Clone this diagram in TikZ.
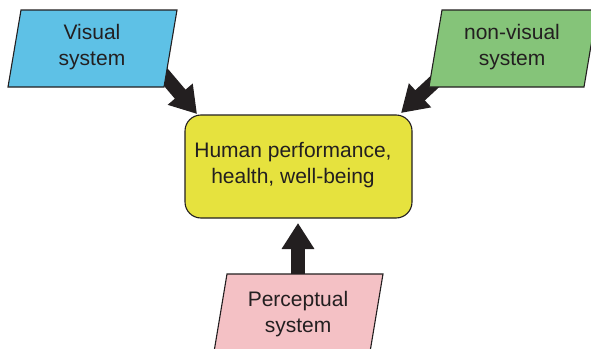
\documentclass[tikz,border=0pt]{standalone}
\usepackage{fontspec}
\setmainfont{Liberation Sans}
\usetikzlibrary{arrows.meta}
\definecolor{ink}{HTML}{231F20}
\definecolor{visblue}{HTML}{5EC1E6}
\definecolor{nvgreen}{HTML}{85C479}
\definecolor{outyellow}{HTML}{E6E23E}
\definecolor{perpink}{HTML}{F4C1C5}
\tikzset{
  boxline/.style={draw=ink, line width=1.1pt},
  label/.style={text=ink, align=center, font=\fontsize{21}{25.5}\selectfont, inner sep=0pt},
  bigarrow/.style={draw=ink, line width=14pt, -{Triangle[width=31pt,length=26pt]}},
}
\begin{document}
\begin{tikzpicture}[x=1pt, y=-1pt]
\useasboundingbox (0,0) rectangle (591,348);
\fill[white] (0,0) rectangle (591,348);

% anchor points of the connectors
\coordinate (visfoot) at (158,68);
\coordinate (vistip) at (197,114);
\coordinate (nvfoot) at (443,74);
\coordinate (nvtip) at (401,113);
\coordinate (perfoot) at (298,280);
\coordinate (pertip) at (298,223);

% thick arrows towards the outcome box
\draw[bigarrow] (visfoot) -- (vistip);
\draw[bigarrow] (nvfoot) -- (nvtip);
\draw[bigarrow] (perfoot) -- (pertip);

% input parallelograms
\filldraw[boxline, fill=visblue] (21,10) -- (177,10) -- (164,87) -- (8,87) -- cycle;
\filldraw[boxline, fill=nvgreen] (442,10) -- (597,10) -- (584,87) -- (429,87) -- cycle;
\filldraw[boxline, fill=perpink] (227,274) -- (383,274) -- (370,352) -- (214,352) -- cycle;

% outcome box
\node[boxline, fill=outyellow, rounded corners=16pt, minimum width=227pt,
      minimum height=103pt, inner sep=0pt] (out) at (298.5,166.5) {};

% texts
\node[label] (vis) at (92,47) {Visual\\system};
\node[label] (nv) at (512,47) {non-visual\\system};
\node[label] (outtxt) at (293,165) {Human performance,\\health, well-being};
\node[label] (per) at (298,314) {Perceptual\\system};
\end{tikzpicture}
\end{document}
